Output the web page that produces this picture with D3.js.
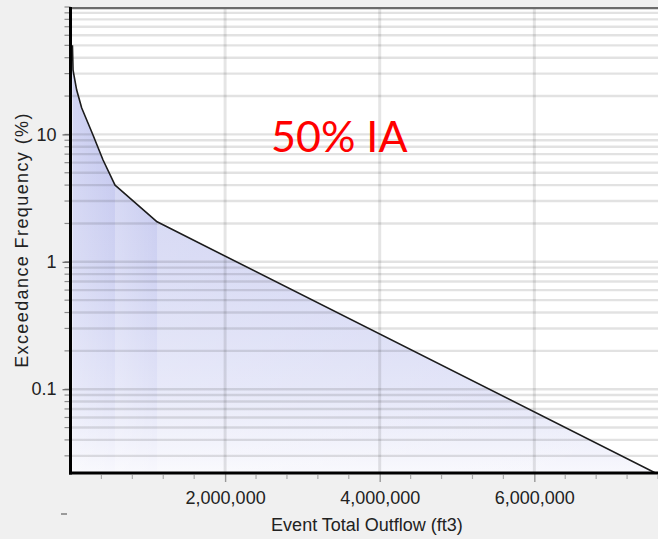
<!DOCTYPE html>
<html>
<head>
<meta charset="utf-8">
<script src="https://cdn.jsdelivr.net/npm/d3@7"></script>
<style>
  body { margin: 0; background: #f0f0f0; }
  svg { display: block; }
</style>
</head>
<body>
<svg id="chart" width="658" height="539"></svg>
<script>
// Exceedance frequency curve: event total outflow (ft3) vs. frequency (%)
const outflow   = [25000, 33000, 80000, 145000, 291000, 421000, 576000, 1120000, 7567000];
const frequency = [50, 32, 22.3, 16.1, 9.9, 6.3, 4.0, 2.06, 0.022];

const xTickValues = [2000000, 4000000, 6000000];
const xMinorStep  = 400000;
const yTickValues = [0.1, 1, 10];
const xDomain = [0, 7600000];
const yDomain = [0.022, 100];

const chartLabel = "50% IA";
const xTitle = "Event Total Outflow (ft3)";
const yTitle = "Exceedance Frequency (%)";

const plot = { left: 70.5, right: 658, top: 7, bottom: 473 };

const svg = d3.select("#chart");
const x = d3.scaleLinear().domain(xDomain).range([plot.left, plot.right]);
const y = d3.scaleLog().domain(yDomain).range([plot.bottom, plot.top]);

const points = outflow.map((v, i) => ({ x: v, y: frequency[i] }));

// ---- gradients ----
const defs = svg.append("defs");
const vg = defs.append("linearGradient")
  .attr("id", "fillV").attr("gradientUnits", "userSpaceOnUse")
  .attr("x1", 0).attr("x2", 0).attr("y1", y(50)).attr("y2", plot.bottom);
[[0, "#bec2ee"], [0.5, "#cfd2f2"], [0.8, "#e0e2f7"], [1, "#f8f8fd"]]
  .forEach(([o, c]) => vg.append("stop").attr("offset", o).attr("stop-color", c));
const hg = defs.append("linearGradient")
  .attr("id", "fillH").attr("x1", 0).attr("x2", 1).attr("y1", 0).attr("y2", 0);
hg.append("stop").attr("offset", 0).attr("stop-color", "#fff").attr("stop-opacity", 0.25);
hg.append("stop").attr("offset", 1).attr("stop-color", "#fff").attr("stop-opacity", 0);

defs.append("clipPath").attr("id", "plotClip").append("rect")
  .attr("x", plot.left).attr("y", plot.top)
  .attr("width", plot.right - plot.left).attr("height", plot.bottom - plot.top);

// plot background
svg.append("rect")
  .attr("x", plot.left).attr("y", plot.top)
  .attr("width", plot.right - plot.left).attr("height", plot.bottom - plot.top)
  .attr("fill", "#ffffff");

const g = svg.append("g").attr("clip-path", "url(#plotClip)");

// ---- area under the curve ----
const area = d3.area()
  .x(d => x(d.x)).y0(plot.bottom).y1(d => y(d.y));
g.append("path").datum(points)
  .attr("d", area).attr("fill", "url(#fillV)");

// soft left-to-right shading between the curve's knees
const knees = [0, 6, 7, 8];   // indices into the point list
const bands = d3.pairs(knees).map(([a, b]) => {
  const pts = points.slice(a, b + 1);
  return a === 0 ? [{ x: xDomain[0], y: pts[0].y }, ...pts] : pts;
});
g.append("g").selectAll("path").data(bands).join("path")
  .attr("d", d => area(d)).attr("fill", "url(#fillH)");

// ---- grid ----
const yGridValues = [];
for (let e = -2; e <= 2; e++) {
  for (let k = 1; k <= 9; k++) {
    const v = k * Math.pow(10, e);
    if (v >= yDomain[0] && v <= yDomain[1] + 1e-9) yGridValues.push(v);
  }
}
g.append("g").selectAll("line").data(yGridValues).join("line")
  .attr("x1", plot.left).attr("x2", plot.right)
  .attr("y1", d => y(d)).attr("y2", d => y(d))
  .attr("stroke", "rgba(0,0,0,0.115)").attr("stroke-width", 2.4);
g.append("g").selectAll("line").data(xTickValues).join("line")
  .attr("x1", d => x(d)).attr("x2", d => x(d))
  .attr("y1", plot.top).attr("y2", plot.bottom)
  .attr("stroke", "rgba(0,0,0,0.1)").attr("stroke-width", 3);

// ---- curve ----
g.append("path")
  .datum(points)
  .attr("d", d3.line().x(d => x(d.x)).y(d => y(d.y)))
  .attr("fill", "none").attr("stroke", "#1c1c1c").attr("stroke-width", 1.6)
  .attr("stroke-linejoin", "round");

// ---- axes ----
const tickFont = "18px 'Liberation Sans', Arial, sans-serif";

// y minor ticks
svg.append("g").selectAll("line").data(yGridValues).join("line")
  .attr("x1", plot.left - 6).attr("x2", plot.left)
  .attr("y1", d => y(d)).attr("y2", d => y(d))
  .attr("stroke", "#8a8a8a").attr("stroke-width", 1.2);

const yAxis = svg.append("g")
  .attr("transform", `translate(${plot.left},0)`)
  .call(d3.axisLeft(y).tickValues(yTickValues)
    .tickFormat(d3.format("~g")).tickSize(8).tickPadding(6));
yAxis.select(".domain").remove();
yAxis.selectAll(".tick line").attr("stroke", "#666").attr("stroke-width", 1.2);
yAxis.selectAll(".tick text")
  .style("font", tickFont).attr("fill", "#222");

// x minor ticks
const xMinor = d3.range(xMinorStep, xDomain[1] + 1, xMinorStep)
  .filter(v => !xTickValues.includes(v));
svg.append("g").selectAll("line").data(xMinor).join("line")
  .attr("x1", d => x(d)).attr("x2", d => x(d))
  .attr("y1", plot.bottom + 2).attr("y2", plot.bottom + 6)
  .attr("stroke", "#aaa").attr("stroke-width", 1.2);

const xAxis = svg.append("g")
  .attr("transform", `translate(0,${plot.bottom})`)
  .call(d3.axisBottom(x).tickValues(xTickValues)
    .tickFormat(d3.format(",")).tickSize(9).tickPadding(9));
xAxis.select(".domain").remove();
xAxis.selectAll(".tick line").attr("stroke", "#999").attr("stroke-width", 1.4);
xAxis.selectAll(".tick text")
  .style("font", tickFont).attr("fill", "#222");

// plot frame
svg.append("line")
  .attr("x1", plot.left).attr("x2", plot.right)
  .attr("y1", plot.top + 1.2).attr("y2", plot.top + 1.2)
  .attr("stroke", "#6c6c6c").attr("stroke-width", 2.2);
svg.append("line")
  .attr("x1", plot.left).attr("x2", plot.left)
  .attr("y1", plot.top).attr("y2", plot.bottom + 1.5)
  .attr("stroke", "#000").attr("stroke-width", 3);
svg.append("line")
  .attr("x1", plot.left - 1.5).attr("x2", plot.right)
  .attr("y1", plot.bottom).attr("y2", plot.bottom)
  .attr("stroke", "#000").attr("stroke-width", 3);

// small marker below the axis corner
svg.append("line")
  .attr("x1", 61).attr("x2", 67).attr("y1", 514).attr("y2", 514)
  .attr("stroke", "#9a9a9a").attr("stroke-width", 2);

// ---- titles ----
svg.append("text")
  .attr("x", 367).attr("y", 531)
  .attr("text-anchor", "middle")
  .style("font", tickFont).attr("fill", "#222")
  .text(xTitle);

svg.append("text")
  .attr("transform", "translate(28,240) rotate(-90)")
  .attr("text-anchor", "middle")
  .style("font", tickFont).style("letter-spacing", "1.4px").attr("fill", "#222")
  .text(yTitle);

svg.append("text")
  .attr("x", 271).attr("y", 152)
  .style("font", "43px Lato, 'Open Sans', sans-serif").attr("fill", "#ff0000")
  .text(chartLabel);
</script>
</body>
</html>
